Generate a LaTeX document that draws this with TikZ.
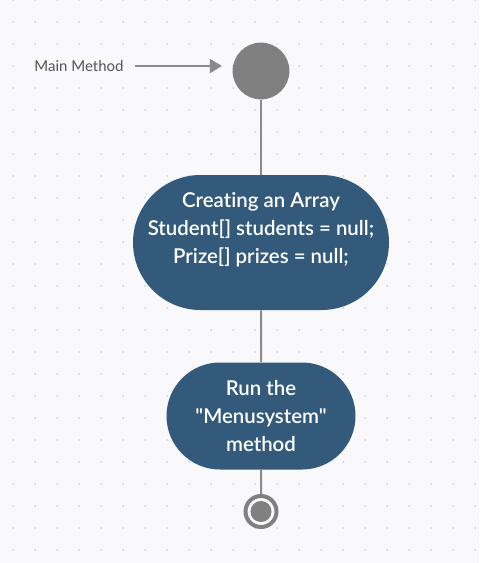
\documentclass[tikz,border=0pt]{standalone}
\usepackage{fontspec}
\setmainfont{Lato}[Ligatures={TeXOff,NoCommon}]
\newfontfamily\boxfont{Lato Semibold}[Ligatures={TeXOff,NoCommon}]
\usetikzlibrary{arrows.meta,shapes.misc}
\definecolor{bg}{RGB}{249,249,251}
\definecolor{dotc}{RGB}{216,216,220}
\definecolor{boxblue}{RGB}{52,90,123}
\definecolor{nodegray}{RGB}{128,128,128}
\definecolor{linegray}{RGB}{138,138,138}
\definecolor{labelgray}{RGB}{85,85,85}
\tikzset{
  startnode/.style={circle, fill=nodegray, minimum size=42.6pt, inner sep=0pt},
  endnode/.style={circle, draw=nodegray, line width=3pt, minimum size=23.25pt, inner sep=0pt,
    path picture={\fill[nodegray] (path picture bounding box.center) circle (7.9pt);}},
  flowbox/.style={rounded rectangle, fill=boxblue, inner sep=0pt, text=white, align=center,
    font=\boxfont\fontsize{15.3pt}{21pt}\selectfont},
  boxtext/.style={inner sep=0pt, text=white, align=center,
    font=\boxfont\fontsize{15.3pt}{21pt}\selectfont},
  labeltext/.style={inner sep=0pt, text=labelgray, font=\fontsize{11.25pt}{13pt}\selectfont},
  conn/.style={draw=linegray, line width=1.5pt},
  arrowline/.style={draw=linegray, line width=1.5pt, -{Triangle[length=9pt,width=10.5pt]}},
}
\begin{document}
\begin{tikzpicture}[x=0.75pt,y=-0.75pt]
\fill[bg] (0,0) rectangle (479,563);
\useasboundingbox (0,0) rectangle (479,563);
\foreach \i in {0,...,21}{
  \foreach \j in {0,...,25}{
    \fill[dotc] (13.3+22*\i, 22*\j) circle (0.85pt);
  }
}
\node[startnode] (start) at (261,71) {};
\node[labeltext] (lbl) at (79,66) {Main Method};
\node[flowbox, minimum width=192pt, minimum height=101.25pt] (box1) at (261,242.5) {};
\node[boxtext] (t1) at (261,230) {Creating an Array\\Student[] students = null;\\Prize[] prizes = null;};
\node[flowbox, minimum width=141.75pt, minimum height=80.25pt] (box2) at (261,416) {Run the\\"Menusystem"\\method};
\node[endnode] (end) at (261,511.5) {};
\draw[conn] (start) -- (box1);
\draw[conn] (box1) -- (box2);
\draw[conn] (box2) -- (end);
\draw[arrowline] ([xshift=8.25pt]lbl.east) -- ([xshift=-7.8pt]lbl.east -| start.west);
\end{tikzpicture}
\end{document}
